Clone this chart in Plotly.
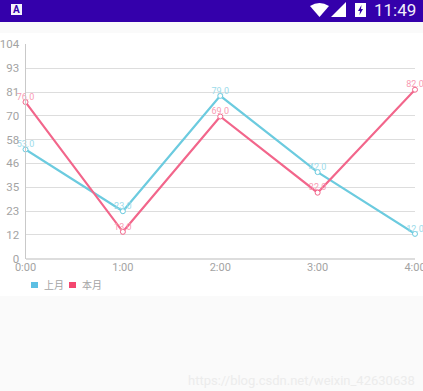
import plotly.graph_objects as go

W, H = 433, 391  # drawn a little wider than the 423 window so the last labels run off the edge as in the reference
categories = ["0:00", "1:00", "2:00", "3:00", "4:00"]
last_month = [53, 23, 79, 42, 12]
this_month = [76, 13, 69, 32, 82]
y_labels = ["0", "12", "23", "35", "46", "58", "70", "81", "93", "104"]
y_max = 104
names = ["上月", "本月"]
BLUE, PINK = "#6ccbdf", "#f2668b"
BLUE_T, PINK_T = "#9ddbea", "#f99bb3"
GREY = "#a3a3a3"
FONT = "Roboto, 'Noto Sans CJK SC', sans-serif"


def px(x):
    return x / W


def py(y):
    return 1 - y / H


fig = go.Figure()
xs = list(range(len(categories)))
for vals, name, col, tcol in [(last_month, names[0], BLUE, BLUE_T), (this_month, names[1], PINK, PINK_T)]:
    fig.add_trace(go.Scatter(
        x=xs, y=vals, name=name, mode="lines+markers",
        line=dict(color=col, width=2.2),
        marker=dict(symbol="circle", size=5, color="white", line=dict(color=col, width=1)),
        cliponaxis=False, showlegend=False,
    ))
    fig.add_trace(go.Scatter(
        x=xs, y=vals, name=name, mode="text",
        text=[f"{v:.1f}" for v in vals], textposition="top center",
        textfont=dict(size=9, color=tcol, family=FONT), cliponaxis=False, showlegend=False,
    ))

shapes = [
    dict(type="rect", xref="paper", yref="paper", x0=0, x1=1, y0=py(33), y1=py(296), fillcolor="white", line_width=0, layer="below"),
    dict(type="rect", xref="paper", yref="paper", x0=0, x1=1, y0=py(0), y1=py(22), fillcolor="#3400ab", line_width=0, layer="below"),
    dict(type="rect", xref="paper", yref="paper", x0=px(11), x1=px(22), y0=py(4), y1=py(15), fillcolor="#f4f2fb", line_width=0),
    # legend swatches
    dict(type="rect", xref="paper", yref="paper", x0=px(31), x1=px(38), y0=py(282), y1=py(288), fillcolor="#5cbfe3", line_width=0),
    dict(type="rect", xref="paper", yref="paper", x0=px(69), x1=px(76), y0=py(282), y1=py(288), fillcolor="#f4476f", line_width=0),
    # status icons: wifi, signal, battery
    dict(type="path", xref="paper", yref="paper", fillcolor="white", line_width=0,
         path=f"M{px(310)},{py(6)} Q{px(319.5)},{py(0)} {px(329)},{py(6)} L{px(319.5)},{py(17)} Z"),
    dict(type="path", xref="paper", yref="paper", fillcolor="white", line_width=0,
         path=f"M{px(331)},{py(17)} L{px(346)},{py(2)} L{px(346)},{py(17)} Z"),
    dict(type="rect", xref="paper", yref="paper", x0=px(355), x1=px(366), y0=py(3), y1=py(17), fillcolor="white", line_width=0),
    dict(type="path", xref="paper", yref="paper", fillcolor="#3400ab", line_width=0,
         path=f"M{px(361.5)},{py(5)} L{px(358)},{py(11)} L{px(360)},{py(11)} L{px(359.5)},{py(15)} L{px(363)},{py(9)} L{px(361)},{py(9)} Z"),
]

annotations = [
    dict(text="<b>A</b>", x=px(16.5), y=py(9.5), font=dict(size=10, color="#3400ab", family=FONT)),
    dict(text="11:49", x=px(395), y=py(10.5), font=dict(size=17, color="#f1eefa", family=FONT)),
    dict(text=names[0], x=px(53.7), y=py(285), font=dict(size=10, color=GREY, family=FONT)),
    dict(text=names[1], x=px(91.7), y=py(285), font=dict(size=10, color=GREY, family=FONT)),
    dict(text="https://blog.csdn.net/weixin_42630638", x=px(301), y=py(380),
         font=dict(size=13, color="#ececec", family=FONT)),
]
for a in annotations:
    a.update(xref="paper", yref="paper", showarrow=False, xanchor="center", yanchor="middle")

step = y_max / (len(y_labels) - 1)
fig.update_layout(
    width=W, height=H, margin=dict(l=0, r=0, t=0, b=0),
    paper_bgcolor="#fafafa", plot_bgcolor="white", showlegend=False,
    font=dict(family=FONT), shapes=shapes, annotations=annotations,
    xaxis=dict(domain=[px(25.5), px(415)], range=[0, len(categories) - 1],
               tickvals=xs, ticktext=categories,
               showgrid=False, zeroline=False, showline=False, ticks="",
               tickfont=dict(size=11, color=GREY, family=FONT), automargin=False),
    yaxis=dict(domain=[py(258.6), py(44.4)], range=[0, y_max],
               tickvals=[i * step for i in range(len(y_labels))], ticktext=y_labels,
               showgrid=True, gridcolor="#dddddd", gridwidth=1, zeroline=True, zerolinecolor="#dddddd",
               showline=True, linecolor="#c9c9c9", linewidth=1, ticks="", ticklabelstandoff=3,
               tickfont=dict(size=11.5, color=GREY, family=FONT), automargin=False),
)
fig.write_html("out.html", config={"displayModeBar": False},
               post_script="document.body.style.margin='0';document.documentElement.style.overflow='hidden';")
